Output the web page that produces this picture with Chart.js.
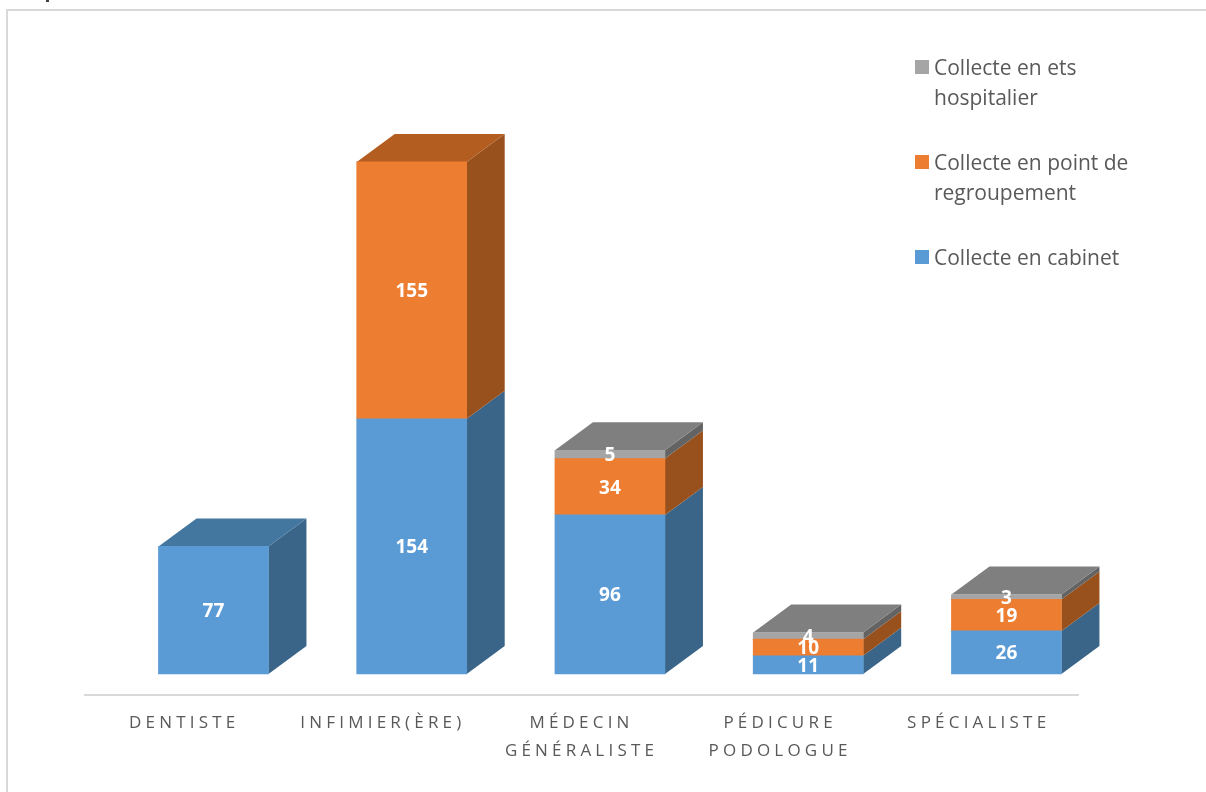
<!DOCTYPE html>
<html lang="fr">
<head>
<meta charset="utf-8">
<title>Collecte par profession</title>
<script src="https://cdn.jsdelivr.net/npm/chart.js@4"></script>
<style>
    html, body { margin: 0; background: #fff; overflow: hidden; }
    #wrap { position: relative; width: 1206px; height: 792px; }
    #frame { position: absolute; left: 6px; top: 9px; width: 1300px; height: 900px; border: 2px solid #d9d9d9; }
    #headingEdge { position: absolute; left: 46px; top: 0; width: 3px; height: 2px; background: #404040; }
    #myChart { position: absolute; left: 0; top: 0; }
    #legend { position: absolute; left: 915px; top: 52px; width: 240px; font: 21px/30px "Open Sans", sans-serif; color: #595959; }
    #legend div { position: relative; padding-left: 19px; margin-bottom: 35px; }
    #legend i { position: absolute; left: 0; top: 8px; width: 14px; height: 14px; }
</style>
</head>
<body>
<div id="wrap">
    <div id="frame"></div>
    <div id="headingEdge"></div>
    <canvas id="myChart" width="1206" height="792"></canvas>
    <div id="legend"></div>
</div>
<script>
const categories = ['DENTISTE', 'INFIMIER(ÈRE)', ['MÉDECIN', 'GÉNÉRALISTE'], ['PÉDICURE', 'PODOLOGUE'], 'SPÉCIALISTE'];
const cabinet = [77, 154, 96, 11, 26];
const regroupement = [null, 155, 34, 10, 19];
const hospitalier = [null, null, 5, 4, 3];

const depthX = 38;
const depthY = 28;

const colors = {
    cabinet: { front: '#5b9bd5', side: '#3a6589', top: '#44779f' },
    regroupement: { front: '#ed7d31', side: '#98501c', top: '#b35e20' },
    hospitalier: { front: '#a5a5a5', side: '#636363', top: '#7f7f7f' }
};

function toPoints(values) {
    return values.map((v, i) => ({ x: i, y: v }));
}

function face(ctx, color, pts) {
    ctx.fillStyle = color;
    ctx.beginPath();
    pts.forEach((p, i) => i ? ctx.lineTo(p[0], p[1]) : ctx.moveTo(p[0], p[1]));
    ctx.closePath();
    ctx.fill();
}

// side and top faces of the boxes, taken from the bar elements
const boxFaces = {
    id: 'boxFaces',
    beforeDatasetsDraw(chart) {
        const ctx = chart.ctx;
        ctx.save();
        categories.forEach((c, i) => {
            let top = null;
            chart.data.datasets.forEach((ds, d) => {
                if (ds.data[i].y === null) return;
                const bar = chart.getDatasetMeta(d).data[i];
                const right = bar.x + bar.width / 2;
                face(ctx, ds.faces.side, [
                    [right, bar.base], [right + depthX, bar.base - depthY],
                    [right + depthX, bar.y - depthY], [right, bar.y]
                ]);
                top = { bar, right, color: ds.faces.top };
            });
            const left = top.bar.x - top.bar.width / 2;
            const y = top.bar.y;
            face(ctx, top.color, [
                [left, y], [top.right, y],
                [top.right + depthX, y - depthY], [left + depthX, y - depthY]
            ]);
        });
        ctx.restore();
    }
};

const valueLabels = {
    id: 'valueLabels',
    afterDatasetsDraw(chart) {
        const ctx = chart.ctx;
        ctx.save();
        ctx.font = 'bold 19px "Open Sans", sans-serif';
        ctx.fillStyle = '#fff';
        ctx.textAlign = 'center';
        ctx.textBaseline = 'middle';
        chart.data.datasets.forEach((ds, d) => {
            chart.getDatasetMeta(d).data.forEach((bar, i) => {
                if (ds.data[i].y === null) return;
                ctx.fillText(ds.data[i].y, bar.x, (bar.y + bar.base) / 2 + 1.5);
            });
        });
        ctx.restore();
    }
};

// the category labels are spaced out, the rest of the canvas text is not
const spacedTicks = {
    id: 'spacedTicks',
    beforeDraw(chart) { chart.ctx.letterSpacing = '4.2px'; },
    beforeDatasetsDraw(chart) { chart.ctx.letterSpacing = '0px'; }
};

const chart = new Chart(document.getElementById('myChart'), {
    type: 'bar',
    data: {
        labels: categories,
        datasets: [
            { label: 'Collecte en cabinet', data: toPoints(cabinet), faces: colors.cabinet, backgroundColor: colors.cabinet.front, xAxisID: 'xBars' },
            { label: 'Collecte en point de regroupement', data: toPoints(regroupement), faces: colors.regroupement, backgroundColor: colors.regroupement.front, xAxisID: 'xBars' },
            { label: 'Collecte en ets hospitalier', data: toPoints(hospitalier), faces: colors.hospitalier, backgroundColor: colors.hospitalier.front, xAxisID: 'xBars' }
        ]
    },
    options: {
        responsive: false,
        animation: false,
        barThickness: 110,
        layout: { padding: { left: 85, right: 128, top: 30, bottom: 0 } },
        plugins: { legend: { display: false }, title: { display: false }, tooltip: { enabled: false } },
        scales: {
            x: {
                type: 'category',
                offset: true,
                grid: { display: false, drawTicks: false },
                border: { color: '#d9d9d9', width: 2 },
                afterFit(scale) { scale.height = 97; },
                ticks: {
                    color: '#595959',
                    autoSkip: false,
                    maxRotation: 0,
                    padding: 15,
                    font: { family: '"Open Sans", sans-serif', size: 17, lineHeight: 1.6 }
                }
            },
            // front faces sit to the right of their label, so they get their own hidden axis
            xBars: { type: 'linear', display: false, offset: false, stacked: true, min: -0.648, max: 4.361 },
            y: { display: false, stacked: true, min: -12.67, max: 388.6 }
        }
    },
    plugins: [spacedTicks, boxFaces, valueLabels]
});

// legend entries, last dataset first
const legendBox = document.getElementById('legend');
[...chart.data.datasets].reverse().forEach((ds) => {
    const row = document.createElement('div');
    const swatch = document.createElement('i');
    swatch.style.background = ds.backgroundColor;
    row.append(swatch, ds.label);
    legendBox.append(row);
});
</script>
</body>
</html>
